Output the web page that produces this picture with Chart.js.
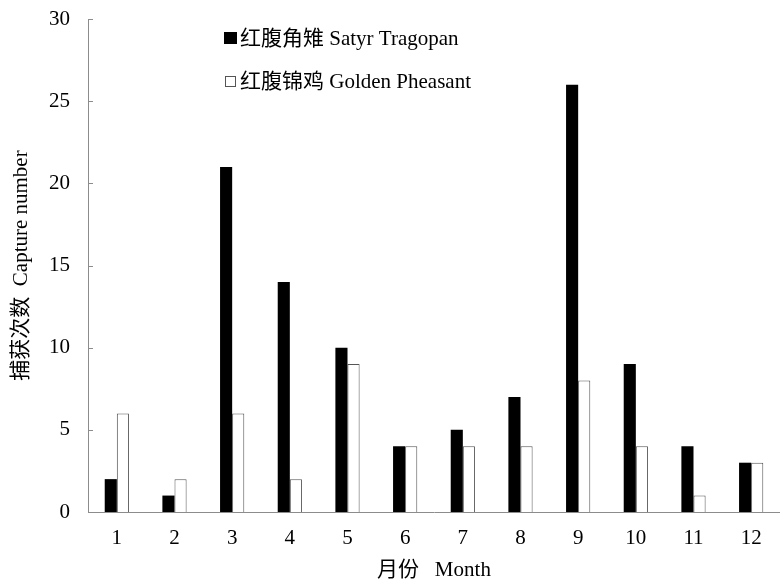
<!DOCTYPE html>
<html>
<head>
<meta charset="utf-8">
<script src="https://cdn.jsdelivr.net/npm/chart.js@4"></script>
<style>
  html, body { margin: 0; padding: 0; background: #fff; }
  #wrap { width: 780px; height: 583px; }
</style>
</head>
<body>
<div id="wrap"><canvas id="myChart" width="780" height="583"></canvas></div>
<script>
const months = ['1', '2', '3', '4', '5', '6', '7', '8', '9', '10', '11', '12'];
const satyrTragopan = [2, 1, 21, 14, 10, 4, 5, 7, 26, 9, 4, 3];
const goldenPheasant = [6, 2, 6, 2, 9, 4, 4, 4, 8, 4, 1, 3];
const yTicks = [0, 5, 10, 15, 20, 25, 30];

const FONT = '"Liberation Serif", "Times New Roman", "Noto Sans CJK SC", serif';
const AXIS_GRAY = '#8c8c8c';

// inward tick marks on the y axis + legend inside the plot
const extras = {
  id: 'extras',
  afterDraw(chart) {
    const ctx = chart.ctx;
    const y = chart.scales.y;
    ctx.save();
    ctx.strokeStyle = AXIS_GRAY;
    ctx.lineWidth = 1;
    y.ticks.forEach(t => {
      const py = Math.round(y.getPixelForValue(t.value)) + 0.5;
      ctx.beginPath();
      ctx.moveTo(y.right, py);
      ctx.lineTo(y.right + 5, py);
      ctx.stroke();
    });

    // legend
    ctx.font = '21px ' + FONT;
    ctx.textBaseline = 'middle';
    const rows = [38, 81];
    chart.data.datasets.forEach((ds, i) => {
      const ly = rows[i];
      if (i === 0) {
        ctx.fillStyle = '#000';
        ctx.fillRect(224, ly - 6, 13, 12);
      } else {
        ctx.fillStyle = '#fff';
        ctx.fillRect(225, ly - 5, 10, 10);
        ctx.strokeStyle = '#555';
        ctx.strokeRect(225.5, ly - 4.5, 10, 10);
      }
      ctx.fillStyle = '#000';
      ctx.fillText(ds.label, 240, ly + 1);
    });
    ctx.restore();
  }
};

new Chart(document.getElementById('myChart').getContext('2d'), {
  type: 'bar',
  data: {
    labels: months,
    datasets: [
      {
        label: '红腹角雉 Satyr Tragopan',
        data: satyrTragopan,
        backgroundColor: '#000',
        borderWidth: 0
      },
      {
        label: '红腹锦鸡 Golden Pheasant',
        data: goldenPheasant,
        backgroundColor: '#fff',
        borderColor: '#555',
        borderWidth: 1
      }
    ]
  },
  options: {
    responsive: false,
    animation: false,
    events: [],
    layout: { padding: { top: 19, right: 0, bottom: 0, left: 0 } },
    datasets: {
      bar: { categoryPercentage: 0.42, barPercentage: 1.0 }
    },
    plugins: {
      legend: { display: false },
      tooltip: { enabled: false }
    },
    scales: {
      x: {
        grid: { display: false, drawTicks: false },
        border: { display: true, color: AXIS_GRAY, width: 1 },
        ticks: { color: '#000', padding: 14, font: { family: FONT, size: 21 } },
        title: {
          display: true,
          text: '月份   Month',
          color: '#000',
          padding: { top: 0, bottom: 0 },
          font: { family: FONT, size: 21 }
        },
        afterFit(scale) {
          scale.height = 71;
          scale.paddingLeft = 0;
          scale.paddingRight = 0;
        }
      },
      y: {
        min: 0,
        max: 30,
        afterBuildTicks(scale) { scale.ticks = yTicks.map(v => ({ value: v })); },
        grid: { display: false, drawTicks: false },
        border: { display: true, color: AXIS_GRAY, width: 1 },
        ticks: { color: '#000', padding: 18, font: { family: FONT, size: 21 } },
        title: {
          display: true,
          text: '捕获次数  Capture number',
          color: '#000',
          padding: { top: 9, bottom: 0 },
          font: { family: FONT, size: 21 }
        },
        afterFit(scale) {
          scale.width = 88;
          scale.paddingTop = 0;
          scale.paddingBottom = 0;
        }
      }
    }
  },
  plugins: [extras]
});
</script>
</body>
</html>
